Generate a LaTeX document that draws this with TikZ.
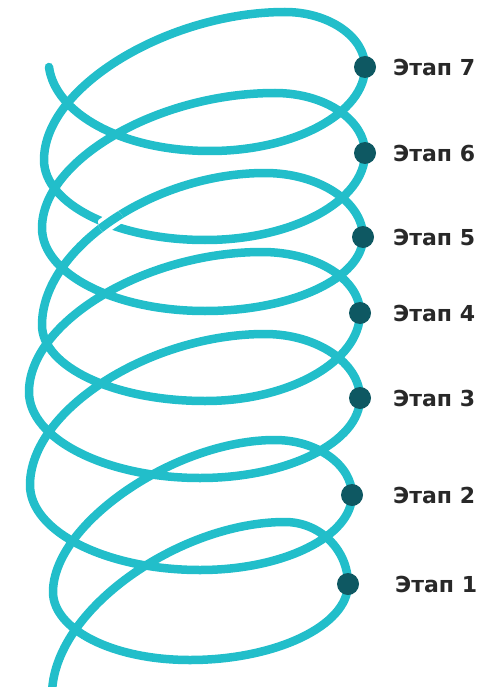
\documentclass[tikz,border=0pt]{standalone}
\usepackage{fontspec}
\setmainfont{DejaVu Sans}
\definecolor{coil}{RGB}{34,190,202}
\definecolor{dotc}{RGB}{14,88,98}
\definecolor{txt}{RGB}{40,40,40}
\begin{document}
\begin{tikzpicture}[x=1pt,y=-1pt,
  coilline/.style={draw=coil,line width=8.5pt,line cap=round,line join=round},
  casing/.style={draw=white,line width=16pt},
  stagedot/.style={circle,fill=dotc,minimum size=22pt,inner sep=0pt},
  stagelbl/.style={anchor=west,inner sep=0pt,text=txt,font=\bfseries\fontsize{22}{26}\selectfont}]
\useasboundingbox (0,0) rectangle (487,687);
% right-hand turning points of the coil, where the stage dots sit
\coordinate (p7) at (365,67);
\coordinate (p6) at (365,153);
\coordinate (p5) at (363,237);
\coordinate (p4) at (360,313);
\coordinate (p3) at (360,398);
\coordinate (p2) at (352,495);
\coordinate (p1) at (348,584);
\coordinate (start) at (49,67);
\coordinate (finish) at (52,695);
\draw[coilline]
 (start) .. controls (55,113) and (121,151) .. (210,151)
 .. controls (295,151) and (365,113) .. (p7)
 % loop 7
 .. controls (365,37) and (329,12) .. (285,12)
 .. controls (170,12) and (44,86) .. (44,160)
 .. controls (44,204) and (116,240) .. (205,240)
 .. controls (293,240) and (365,201) .. (p6)
 % loop 6
 .. controls (365,120) and (325,93) .. (275,93)
 .. controls (158,93) and (42,160) .. (42,228)
 .. controls (42,274) and (115,311) .. (205,311)
 .. controls (292,311) and (363,278) .. (p5)
 % loop 5
 .. controls (363,202) and (319,173) .. (265,173)
 .. controls (153,173) and (42,249) .. (42,325)
 .. controls (42,367) and (115,401) .. (205,401)
 .. controls (290,401) and (360,361) .. (p4)
 % loop 4
 .. controls (360,279) and (316,252) .. (262,252)
 .. controls (145,252) and (29,322) .. (29,392)
 .. controls (29,439) and (106,478) .. (200,478)
 .. controls (288,478) and (360,442) .. (p3)
 % loop 3
 .. controls (360,363) and (317,334) .. (265,334)
 .. controls (150,334) and (30,410) .. (30,485)
 .. controls (30,532) and (107,570) .. (200,570)
 .. controls (284,570) and (352,536) .. (p2)
 % loop 2
 .. controls (352,465) and (317,440) .. (275,440)
 .. controls (175,440) and (53,524) .. (53,592)
 .. controls (53,629) and (112,660) .. (190,660)
 .. controls (275,660) and (348,626) .. (p1)
 % loop 1
 .. controls (348,550) and (320,522) .. (285,522)
 .. controls (180,522) and (52,610) .. (finish);
% over-crossing of the loop-5 stroke above the loop-6 stroke
\begin{scope}
 \clip (111,222) circle (13pt);
 \draw[casing] (265,173) .. controls (153,173) and (42,249) .. (42,325);
 \draw[coilline] (265,173) .. controls (153,173) and (42,249) .. (42,325);
\end{scope}
\node[stagedot] (d7) at (p7) {};
\node[stagedot] (d6) at (p6) {};
\node[stagedot] (d5) at (p5) {};
\node[stagedot] (d4) at (p4) {};
\node[stagedot] (d3) at (p3) {};
\node[stagedot] (d2) at (p2) {};
\node[stagedot] (d1) at (p1) {};
\node[stagelbl] (l7) at (393,67) {Этап 7};
\node[stagelbl] (l6) at (393,153) {Этап 6};
\node[stagelbl] (l5) at (393,237) {Этап 5};
\node[stagelbl] (l4) at (393,313) {Этап 4};
\node[stagelbl] (l3) at (393,398) {Этап 3};
\node[stagelbl] (l2) at (393,495) {Этап 2};
\node[stagelbl] (l1) at (395,584) {Этап 1};
\end{tikzpicture}
\end{document}
